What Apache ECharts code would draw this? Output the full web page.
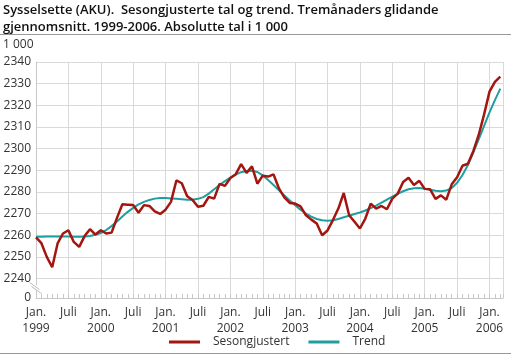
<!DOCTYPE html>
<html><head><meta charset="utf-8">
<script src="https://cdn.jsdelivr.net/npm/echarts@6/dist/echarts.min.js"></script>
<style>html,body{margin:0;padding:0;background:#fff}#c{width:511px;height:355px}</style>
</head><body><div id="c"></div>
<script>
const titleText = 'Sysselsette (AKU).  Sesongjusterte tal og trend. Tremånaders glidande\ngjennomsnitt. 1999-2006. Absolutte tal i 1 000';
const unitLabel = '1 000';
const seriesNames = ['Sesongjustert', 'Trend'];
const months = [
'1999-01','1999-02','1999-03','1999-04','1999-05','1999-06','1999-07','1999-08','1999-09','1999-10','1999-11','1999-12',
'2000-01','2000-02','2000-03','2000-04','2000-05','2000-06','2000-07','2000-08','2000-09','2000-10','2000-11','2000-12',
'2001-01','2001-02','2001-03','2001-04','2001-05','2001-06','2001-07','2001-08','2001-09','2001-10','2001-11','2001-12',
'2002-01','2002-02','2002-03','2002-04','2002-05','2002-06','2002-07','2002-08','2002-09','2002-10','2002-11','2002-12',
'2003-01','2003-02','2003-03','2003-04','2003-05','2003-06','2003-07','2003-08','2003-09','2003-10','2003-11','2003-12',
'2004-01','2004-02','2004-03','2004-04','2004-05','2004-06','2004-07','2004-08','2004-09','2004-10','2004-11','2004-12',
'2005-01','2005-02','2005-03','2005-04','2005-05','2005-06','2005-07','2005-08','2005-09','2005-10','2005-11','2005-12',
'2006-01','2006-02','2006-03'
];
const seasonal = [
2259.0,2256.3,2250.0,2245.2,2256.2,2260.8,2262.3,2256.9,2254.6,2259.6,2262.8,2260.3,
2262.3,2260.8,2261.2,2268.0,2274.3,2274.1,2273.9,2270.4,2273.9,2273.5,2271.0,2269.8,
2271.8,2275.4,2285.3,2284.0,2278.0,2276.3,2273.1,2273.6,2277.7,2276.9,2283.7,2282.8,
2286.4,2288.2,2292.8,2288.8,2291.8,2283.8,2287.5,2287.1,2288.1,2281.6,2277.5,2274.9,
2274.6,2273.3,2269.2,2267.2,2265.4,2260.0,2262.2,2267.0,2272.3,2279.5,2269.2,2266.2,
2263.1,2267.7,2274.6,2272.3,2273.5,2272.0,2276.9,2279.2,2284.6,2286.5,2283.2,2285.1,
2281.4,2281.2,2276.8,2278.4,2276.4,2283.5,2286.8,2292.1,2293.0,2298.8,2306.3,2315.8,
2326.3,2330.8,2333.2
];
const trend = [
2259.3,2259.3,2259.4,2259.4,2259.4,2259.4,2259.4,2259.3,2259.3,2259.4,2259.6,2260.2,
2261.0,2262.4,2264.2,2266.3,2268.6,2270.8,2272.6,2274.2,2275.4,2276.3,2276.9,2277.2,
2277.2,2277.0,2276.8,2276.6,2276.4,2276.4,2276.8,2277.6,2279.2,2281.2,2283.2,2285.0,
2286.6,2288.0,2289.1,2289.7,2289.8,2289.2,2287.6,2285.5,2283.2,2280.7,2278.3,2276.0,
2273.9,2271.8,2270.0,2268.6,2267.5,2266.9,2266.7,2266.9,2267.5,2268.3,2269.0,2269.8,
2270.5,2271.4,2272.5,2273.7,2275.0,2276.4,2277.8,2279.1,2280.3,2281.2,2281.7,2281.8,
2281.5,2281.0,2280.5,2280.3,2280.6,2281.8,2284.2,2287.8,2292.4,2298.2,2304.3,2310.5,
2316.7,2322.4,2327.7
];
const yTickValues = [2231, 2240, 2250, 2260, 2270, 2280, 2290, 2300, 2310, 2320, 2330, 2340];
const yTickLabels = ['0', '2240', '2250', '2260', '2270', '2280', '2290', '2300', '2310', '2320', '2330', '2340'];
const janLabel = 'Jan.';
const julLabel = 'Juli';

const FONT = 'Open Sans';
const GRIDC = '#d9d9d9';
const RED = '#a3150f';
const TEAL = '#1f9e9e';

const chart = echarts.init(document.getElementById('c'), null, {renderer: 'canvas'});
const xMax = months.length - 0.5;

const option = {
  animation: false,
  textStyle: {fontFamily: FONT},
  title: [
    {text: titleText, left: 3, top: 2, padding: 0,
     textStyle: {fontFamily: FONT, fontSize: 13, fontWeight: 600, color: '#111', lineHeight: 17}},
    {text: unitLabel, left: 3, top: 38, padding: 0,
     textStyle: {fontFamily: FONT, fontSize: 12, fontWeight: 'normal', color: '#333', lineHeight: 14}}
  ],
  grid: {left: 36, right: 8, top: 62, bottom: 57, containLabel: false},
  legend: {
    left: 169, top: 336, padding: 0, icon: 'rect', itemWidth: 31, itemHeight: 3, itemGap: 19,
    data: seriesNames,
    textStyle: {fontFamily: FONT, fontSize: 12, color: '#333', padding: [0, 0, 0, 8]}
  },
  xAxis: [
    {type: 'value', min: 0, max: xMax, interval: 6,
     axisLine: {show: true, lineStyle: {color: '#c8c8c8', width: 1}},
     axisTick: {show: false},
     splitLine: {show: true, lineStyle: {color: GRIDC, width: 1}},
     axisLabel: {
       margin: 7, color: '#333', fontSize: 12, fontFamily: FONT, lineHeight: 16,
       showMaxLabel: false,
       formatter: function (v) {
         if (v % 1 !== 0) return '';
         const m = months[v];
         if (!m) return '';
         if (v % 12 === 0) return janLabel + '\n' + m.slice(0, 4);
         if (v % 12 === 6) return julLabel;
         return '';
       }
     }},
    {type: 'value', min: 0, max: xMax, interval: 1, position: 'bottom',
     axisLine: {show: false},
     axisTick: {show: true, inside: true, length: 4, lineStyle: {color: '#c8c8c8'}},
     axisLabel: {show: false}, splitLine: {show: false}}
  ],
  yAxis: {
    type: 'value', min: yTickValues[0], max: yTickValues[yTickValues.length - 1],
    axisLine: {show: true, lineStyle: {color: '#c8c8c8'}},
    axisTick: {show: false, customValues: yTickValues},
    splitLine: {show: true, lineStyle: {color: GRIDC, width: 1}},
    axisLabel: {
      customValues: yTickValues, margin: 5, color: '#333', fontSize: 12, fontFamily: FONT,
      formatter: function (v) {
        const k = yTickValues.indexOf(v);
        return k >= 0 ? yTickLabels[k] : '';
      }
    }
  },
  series: [
    {name: seriesNames[1], type: 'line', xAxisIndex: 0, showSymbol: false, symbol: 'none',
     data: trend.map((v, i) => [i, v]), lineStyle: {color: TEAL, width: 2}, itemStyle: {color: TEAL}, z: 2},
    {name: seriesNames[0], type: 'line', xAxisIndex: 0, showSymbol: false, symbol: 'none',
     data: seasonal.map((v, i) => [i, v]), lineStyle: {color: RED, width: 2.5}, itemStyle: {color: RED}, z: 3}
  ]
};
chart.setOption(option);

const ax = chart.convertToPixel({xAxisIndex: 0}, 0);
const yA = chart.convertToPixel({yAxisIndex: 0}, 2235.6);
chart.setOption({
  graphic: [
    {type: 'line', shape: {x1: 0, y1: 34.5, x2: 511, y2: 34.5}, style: {stroke: '#999', lineWidth: 1}, silent: true},
    {type: 'line', shape: {x1: 0, y1: 353.5, x2: 511, y2: 353.5}, style: {stroke: '#999', lineWidth: 1}, silent: true},
    {type: 'rect', shape: {x: ax - 3, y: yA - 3, width: 6, height: 5}, style: {fill: '#fff'}, silent: true, z: 100},
    {type: 'line', shape: {x1: ax - 6.5, y1: yA - 5.5, x2: ax + 3.5, y2: yA + 1.5}, style: {stroke: '#bbb', lineWidth: 1}, silent: true, z: 101},
    {type: 'line', shape: {x1: ax - 4.5, y1: yA - 1.5, x2: ax + 5.5, y2: yA + 5.5}, style: {stroke: '#bbb', lineWidth: 1}, silent: true, z: 101}
  ]
});
</script>
</body></html>
